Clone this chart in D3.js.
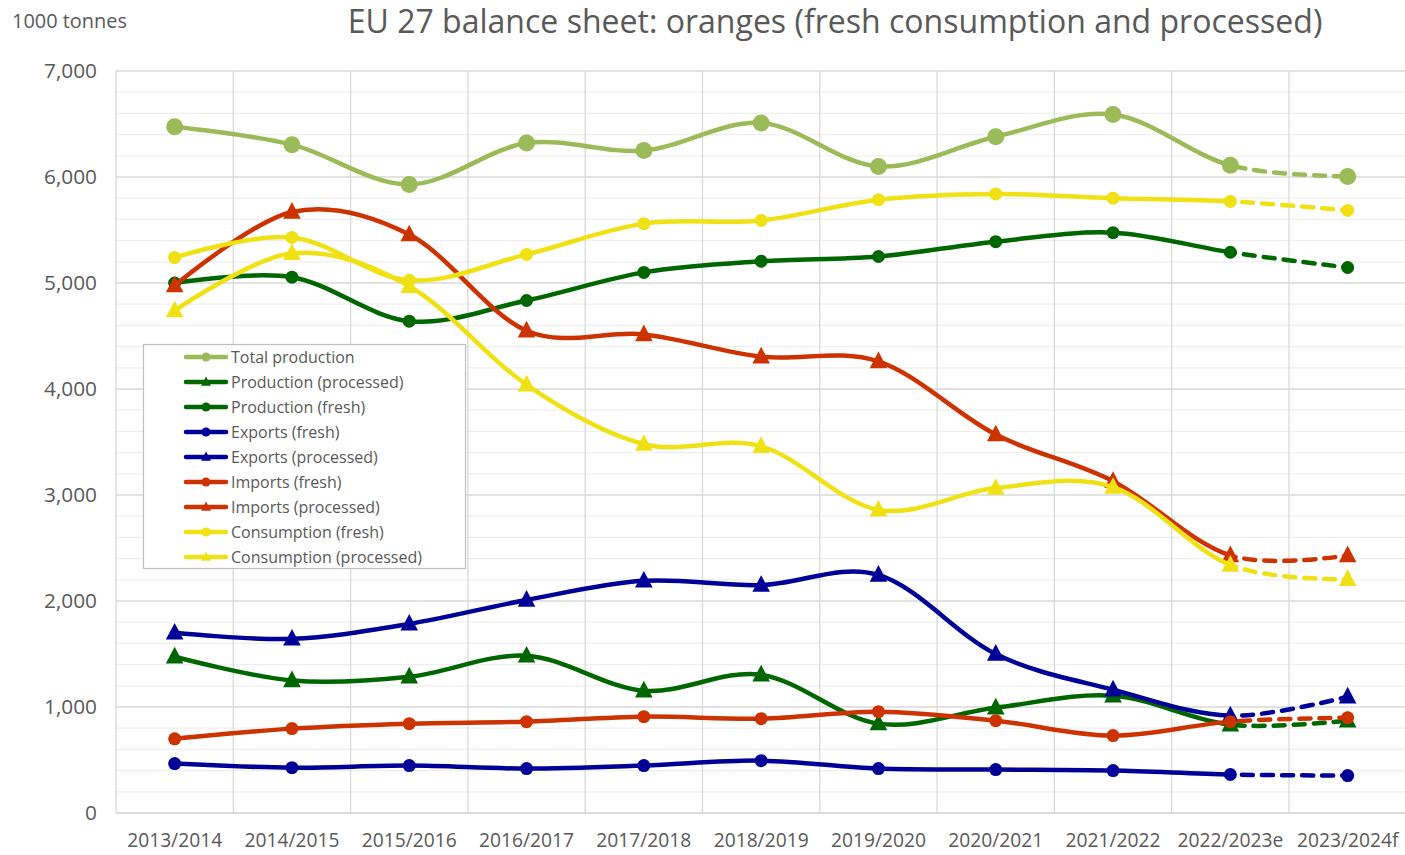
<!DOCTYPE html>
<html><head><meta charset="utf-8">
<script src="https://cdn.jsdelivr.net/npm/d3@7"></script>
<style>
html,body{margin:0;padding:0;background:#fff;}
svg{display:block;font-family:"Open Sans","Noto Sans",sans-serif;}
</style></head>
<body><svg id="chart" width="1405" height="855"></svg>
<script>
const categories = ["2013/2014","2014/2015","2015/2016","2016/2017","2017/2018","2018/2019","2019/2020","2020/2021","2021/2022","2022/2023e","2023/2024f"];
const yTicks = [0,1000,2000,3000,4000,5000,6000,7000];

const totalProduction      = [6475,6305,5930,6320,6250,6510,6100,6380,6590,6110,6005];
const productionProcessed  = [1474,1250,1285,1483,1153,1304,843,993,1106,833,871];
const productionFresh      = [5000,5055,4640,4835,5100,5205,5250,5390,5475,5290,5146];
const exportsFresh         = [466,428,447,419,447,494,419,410,400,363,353];
const exportsProcessed     = [1700,1643,1784,2010,2190,2150,2246,1500,1163,918,1097];
const importsFresh         = [700,796,843,862,909,890,956,871,730,862,899];
const importsProcessed     = [4975,5670,5457,4550,4515,4305,4260,3570,3130,2430,2430];
const consumptionFresh     = [5240,5430,5025,5270,5560,5590,5786,5840,5800,5770,5685];
const consumptionProcessed = [4740,5280,4970,4040,3480,3460,2860,3065,3075,2340,2205];

const series = [
  {name:"Total production", values:totalProduction, color:"#9BBB59", marker:"circle", r:8.5},
  {name:"Production (processed)", values:productionProcessed, color:"#006600", marker:"triangle"},
  {name:"Production (fresh)", values:productionFresh, color:"#006600", marker:"circle", r:6.5},
  {name:"Exports (fresh)", values:exportsFresh, color:"#000099", marker:"circle", r:6.5},
  {name:"Exports (processed)", values:exportsProcessed, color:"#000099", marker:"triangle"},
  {name:"Imports (fresh)", values:importsFresh, color:"#CC3300", marker:"circle", r:6.5},
  {name:"Imports (processed)", values:importsProcessed, color:"#CC3300", marker:"triangle"},
  {name:"Consumption (fresh)", values:consumptionFresh, color:"#F0E114", marker:"circle", r:6.5},
  {name:"Consumption (processed)", values:consumptionProcessed, color:"#F0E114", marker:"triangle"}
];

const FONT = "Open Sans";
const svg = d3.select("#chart");
const M = {left:116, right:1405, top:71, bottom:813};

function fitFont(sel, refNode, base, target) {
  const w = refNode.getComputedTextLength();
  sel.attr("font-size", base * target / w);
}

const x = d3.scaleBand().domain(categories).range([M.left, M.left + 117.3*11]).padding(0);
const cx = d => x(d) + x.bandwidth()/2;
const y = d3.scaleLinear().domain([0,7000]).range([M.bottom, M.top]);

const minor = d3.range(200,7000,200).filter(v => v % 1000 !== 0);
svg.append("g").selectAll("line").data(minor).join("line")
  .attr("x1",M.left).attr("x2",M.right).attr("y1",d=>y(d)).attr("y2",d=>y(d))
  .attr("stroke","#efefef").attr("stroke-width",1.3);
svg.append("g").selectAll("line").data(yTicks.filter(v=>v>0)).join("line")
  .attr("x1",M.left).attr("x2",M.right).attr("y1",d=>y(d)).attr("y2",d=>y(d))
  .attr("stroke","#d9d9d9").attr("stroke-width",1.3);
const vlines = categories.map(c => x(c)).concat([x(categories[categories.length-1]) + x.bandwidth()]);
svg.append("g").selectAll("line").data(vlines).join("line")
  .attr("x1",d=>d).attr("x2",d=>d).attr("y1",M.top).attr("y2",M.bottom)
  .attr("stroke","#d9d9d9").attr("stroke-width",1.3);
svg.append("line").attr("x1",M.left).attr("x2",M.right).attr("y1",M.bottom).attr("y2",M.bottom)
  .attr("stroke","#d0d0d0").attr("stroke-width",1.6);

const yAxis = d3.axisLeft(y).tickValues(yTicks).tickSize(0).tickPadding(19).tickFormat(d3.format(","));
const ya = svg.append("g").attr("transform",`translate(${M.left},0)`).call(yAxis);
ya.select(".domain").remove();
const yText = ya.selectAll("text").attr("fill","#595959").attr("font-size",18).attr("font-family",FONT);
fitFont(yText, yText.filter(d=>d===7000).node(), 18, 53);

const xAxis = d3.axisBottom(x).tickSize(0).tickPadding(20);
const xa = svg.append("g").attr("transform",`translate(0,${M.bottom})`).call(xAxis);
xa.select(".domain").remove();
const xText = xa.selectAll("text").attr("fill","#595959").attr("font-size",17).attr("font-family",FONT);
fitFont(xText, xText.filter(d=>d===categories[0]).node(), 17, 95);

const title = svg.append("text").attr("x",835).attr("y",33).attr("text-anchor","middle")
  .attr("fill","#595959").attr("font-size",28).attr("font-family",FONT)
  .text("EU 27 balance sheet: oranges (fresh consumption and processed)");
fitFont(title, title.node(), 28, 975);
const unit = svg.append("text").attr("x",12).attr("y",28).attr("fill","#595959").attr("font-size",16).attr("font-family",FONT)
  .text("1000 tonnes");
fitFont(unit, unit.node(), 16, 115);

const splitX = cx(categories[9]);
const defs = svg.append("defs");
defs.append("clipPath").attr("id","solidClip").append("rect")
  .attr("x",0).attr("y",0).attr("width",splitX).attr("height",855);
defs.append("clipPath").attr("id","dashClip").append("rect")
  .attr("x",splitX).attr("y",0).attr("width",1405-splitX).attr("height",855);

const line = d3.line().x((d,i)=>cx(categories[i])).y(d=>y(d)).curve(d3.curveCardinal.tension(0));
const triPath = (s) => `M0,${-s*0.62}L${s*0.55},${s*0.42}L${-s*0.55},${s*0.42}Z`;

const plot = svg.append("g");
series.forEach(s => {
  const g = plot.append("g");
  g.append("path").attr("d", line(s.values)).attr("fill","none").attr("stroke",s.color)
    .attr("stroke-width",4.5).attr("stroke-linejoin","round").attr("clip-path","url(#solidClip)");
  g.append("path").attr("d", line(s.values)).attr("fill","none").attr("stroke",s.color)
    .attr("stroke-width",4.5).attr("stroke-dasharray","11,9").attr("stroke-linecap","round")
    .attr("stroke-dashoffset",-8)
    .attr("clip-path","url(#dashClip)");
  s.values.forEach((v,i) => {
    if (s.marker === "circle") {
      g.append("circle").attr("cx",cx(categories[i])).attr("cy",y(v)).attr("r",s.r).attr("fill",s.color);
    } else {
      g.append("path").attr("transform",`translate(${cx(categories[i])},${y(v)})`)
        .attr("d",triPath(16)).attr("fill",s.color);
    }
  });
});

const lg = svg.append("g");
lg.append("rect").attr("x",143.5).attr("y",344.5).attr("width",322).attr("height",224)
  .attr("fill","#fff").attr("stroke","#bfbfbf").attr("stroke-width",1.2);
series.forEach((s,i) => {
  const yy = 357 + i*25;
  lg.append("line").attr("x1",186).attr("x2",226).attr("y1",yy).attr("y2",yy)
    .attr("stroke",s.color).attr("stroke-width",4.5).attr("stroke-linecap","round");
  if (s.marker === "circle") {
    lg.append("circle").attr("cx",206).attr("cy",yy).attr("r",4.5).attr("fill",s.color);
  } else {
    lg.append("path").attr("transform",`translate(206,${yy})`).attr("d",triPath(9)).attr("fill",s.color);
  }
});
const lgText = lg.selectAll("text.lt").data(series).join("text").attr("class","lt")
  .attr("x",231).attr("y",(d,i)=>357 + i*25 + 5.5).attr("fill","#595959").attr("font-size",15)
  .attr("font-family",FONT).text(d=>d.name);
fitFont(lgText, lgText.filter(d=>d.name==="Consumption (processed)").node(), 15, 191);
</script></body></html>
